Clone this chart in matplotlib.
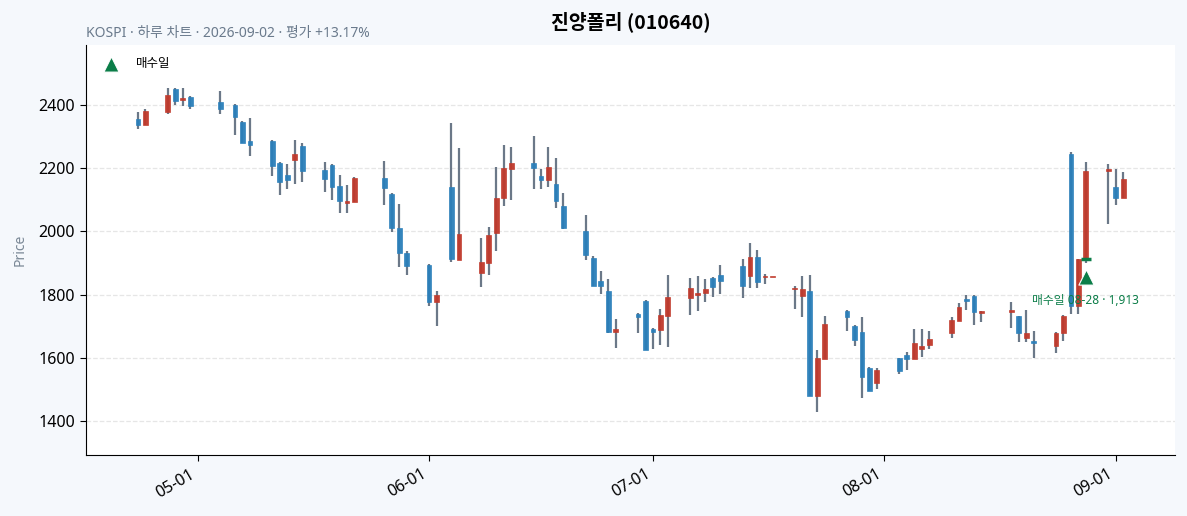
import numpy as np
import pandas as pd
import matplotlib
matplotlib.use("Agg")
import matplotlib.pyplot as plt
import matplotlib.dates as mdates

plt.rcParams['font.family'] = ['Noto Sans', 'Noto Sans CJK KR', 'DejaVu Sans']

# daily OHLC
dates = pd.to_datetime([
    "2026-04-23", "2026-04-24", "2026-04-27", "2026-04-28", "2026-04-29", "2026-04-30",
    "2026-05-04", "2026-05-06", "2026-05-07", "2026-05-08", "2026-05-11", "2026-05-12",
    "2026-05-13", "2026-05-14", "2026-05-15", "2026-05-18", "2026-05-19", "2026-05-20",
    "2026-05-21", "2026-05-22", "2026-05-26", "2026-05-27", "2026-05-28", "2026-05-29",
    "2026-06-01", "2026-06-02", "2026-06-04", "2026-06-05", "2026-06-08", "2026-06-09",
    "2026-06-10", "2026-06-11", "2026-06-12", "2026-06-15", "2026-06-16", "2026-06-17",
    "2026-06-18", "2026-06-19", "2026-06-22", "2026-06-23", "2026-06-24", "2026-06-25",
    "2026-06-26", "2026-06-29", "2026-06-30", "2026-07-01", "2026-07-02", "2026-07-03",
    "2026-07-06", "2026-07-07", "2026-07-08", "2026-07-09", "2026-07-10", "2026-07-13",
    "2026-07-14", "2026-07-15", "2026-07-16", "2026-07-17", "2026-07-20", "2026-07-21",
    "2026-07-22", "2026-07-23", "2026-07-24", "2026-07-27", "2026-07-28", "2026-07-29",
    "2026-07-30", "2026-07-31", "2026-08-03", "2026-08-04", "2026-08-05", "2026-08-06",
    "2026-08-07", "2026-08-10", "2026-08-11", "2026-08-12", "2026-08-13", "2026-08-14",
    "2026-08-18", "2026-08-19", "2026-08-20", "2026-08-21", "2026-08-24", "2026-08-25",
    "2026-08-26", "2026-08-27", "2026-08-28", "2026-08-31", "2026-09-01", "2026-09-02",
])
opens = np.array([
    2355, 2335, 2379, 2451, 2417, 2425, 2408, 2400, 2346, 2286, 2286, 2216,
    2177, 2227, 2270, 2194, 2210, 2144, 2089, 2094, 2169, 2118, 2011, 1931,
    1894, 1778, 2140, 1910, 1868, 1900, 1995, 2104, 2198, 2216, 2175, 2164,
    2150, 2079, 2001, 1916, 1843, 1810, 1683, 1739, 1780, 1691, 1689, 1733,
    1790, 1800, 1804, 1851, 1862, 1890, 1860, 1918, 1854, 1855, 1818, 1796,
    1811, 1480, 1597, 1749, 1701, 1682, 1569, 1521, 1600, 1609, 1597, 1629,
    1640, 1679, 1716, 1786, 1795, 1742, 1746, 1732, 1664, 1653, 1638, 1677,
    2245, 1765, 1913, 2192, 2140, 2104])
highs = np.array([
    2377, 2386, 2453, 2454, 2454, 2429, 2443, 2403, 2348, 2358, 2288, 2219,
    2212, 2288, 2280, 2220, 2213, 2177, 2146, 2172, 2222, 2121, 2086, 1938,
    1896, 1810, 2342, 2263, 1978, 2013, 2203, 2273, 2266, 2302, 2197, 2266,
    2231, 2120, 2051, 1921, 1874, 1850, 1724, 1741, 1782, 1694, 1753, 1861,
    1851, 1858, 1848, 1856, 1894, 1912, 1962, 1940, 1864, 1855, 1827, 1859,
    1862, 1624, 1732, 1751, 1704, 1728, 1571, 1568, 1600, 1618, 1690, 1690,
    1684, 1728, 1773, 1799, 1799, 1747, 1776, 1732, 1751, 1684, 1682, 1735,
    2252, 1913, 2219, 2212, 2197, 2187])
lows = np.array([
    2323, 2335, 2372, 2399, 2396, 2388, 2370, 2304, 2278, 2238, 2174, 2114,
    2133, 2149, 2157, 2124, 2098, 2057, 2057, 2094, 2083, 1999, 1886, 1861,
    1763, 1700, 1902, 1910, 1824, 1862, 1937, 2081, 2098, 2133, 2133, 2140,
    2073, 2009, 1908, 1828, 1801, 1677, 1630, 1677, 1625, 1627, 1639, 1633,
    1734, 1747, 1777, 1791, 1801, 1788, 1820, 1820, 1833, 1855, 1753, 1728,
    1480, 1429, 1597, 1684, 1638, 1472, 1496, 1502, 1548, 1560, 1597, 1603,
    1627, 1664, 1716, 1750, 1703, 1712, 1693, 1649, 1651, 1598, 1614, 1653,
    1739, 1739, 1899, 2022, 2083, 2104])
closes = np.array([
    2338, 2381, 2432, 2414, 2421, 2398, 2388, 2363, 2278, 2274, 2208, 2157,
    2164, 2245, 2192, 2167, 2141, 2097, 2096, 2169, 2138, 2012, 1933, 1891,
    1777, 1798, 1914, 1992, 1903, 1989, 2106, 2201, 2216, 2202, 2164, 2203,
    2097, 2012, 1926, 1828, 1828, 1683, 1690, 1728, 1625, 1683, 1734, 1791,
    1820, 1805, 1817, 1823, 1844, 1828, 1918, 1841, 1856, 1855, 1821, 1817,
    1480, 1599, 1706, 1730, 1657, 1540, 1496, 1560, 1559, 1597, 1647, 1637,
    1659, 1720, 1761, 1781, 1746, 1747, 1748, 1679, 1679, 1647, 1678, 1732,
    1765, 1913, 2191, 2197, 2104, 2166])

buy_date = pd.Timestamp("2026-08-28")
buy_price = 1913

up_color = "#c0392b"
down_color = "#2a7fba"
wick_color = "#6b7888"
buy_color = "#0b7d48"

fig, ax = plt.subplots(figsize=(11.87, 5.16), dpi=100)
fig.patch.set_facecolor("#f5f8fc")
ax.set_facecolor("white")
fig.subplots_adjust(left=0.0725, right=0.99, bottom=0.118, top=0.913)

x = mdates.date2num(dates)
up = closes >= opens
colors = np.where(up, up_color, down_color)
body_bottom = np.minimum(opens, closes)
body_height = np.maximum(np.abs(closes - opens), 4)

ax.vlines(x, lows, highs, color=wick_color, linewidth=1.6, zorder=2)
ax.bar(x, body_height, bottom=body_bottom, width=0.65, color=colors,
       edgecolor=colors, linewidth=0.5, alpha=0.95, zorder=3)

# buy marker
bx = mdates.date2num(buy_date)
ax.scatter([bx], [buy_price], marker="_", s=60, color=buy_color, linewidths=2.5, zorder=4)
ax.scatter([bx], [buy_price * 0.97], marker="^", s=120, color=buy_color,
           edgecolors="white", linewidths=0.8, zorder=5, label="매수일")
ax.annotate(f"매수일 {buy_date:%m-%d} · {buy_price:,}", (bx, buy_price * 0.97),
            xytext=(0, -17), textcoords="offset points", ha="center", va="center",
            fontsize=8.5, color=buy_color, zorder=6)

ax.set_ylim(1292, 2590)
ax.xaxis.set_major_locator(mdates.MonthLocator())
ax.xaxis.set_major_formatter(mdates.DateFormatter("%m-%d"))
plt.setp(ax.get_xticklabels(), rotation=30, ha="right")
ax.tick_params(labelsize=11.5, length=4.5)

ax.grid(axis="y", linestyle="--", color="#e6e6e6", linewidth=0.9)
ax.set_axisbelow(True)
ax.spines["top"].set_visible(False)
ax.spines["right"].set_visible(False)
ax.set_ylabel("Price", color="#7a8896", fontsize=10)
ax.yaxis.set_label_coords(-0.054, 0.5)

ax.set_title("진양폴리 (010640)", fontsize=14, fontweight="bold", pad=12,
             family=['Noto Sans CJK KR', 'DejaVu Sans'])
ax.text(0, 1.01, "KOSPI · 하루 차트 · 2026-09-02 · 평가 +13.17%", transform=ax.transAxes,
        fontsize=10, color="#6a7a8c", ha="left", va="bottom")
ax.legend(loc="upper left", frameon=False, fontsize=9, markerscale=1.0,
          handletextpad=1.0, borderaxespad=0.6)

plt.savefig("out.png", dpi=100, facecolor=fig.get_facecolor())
